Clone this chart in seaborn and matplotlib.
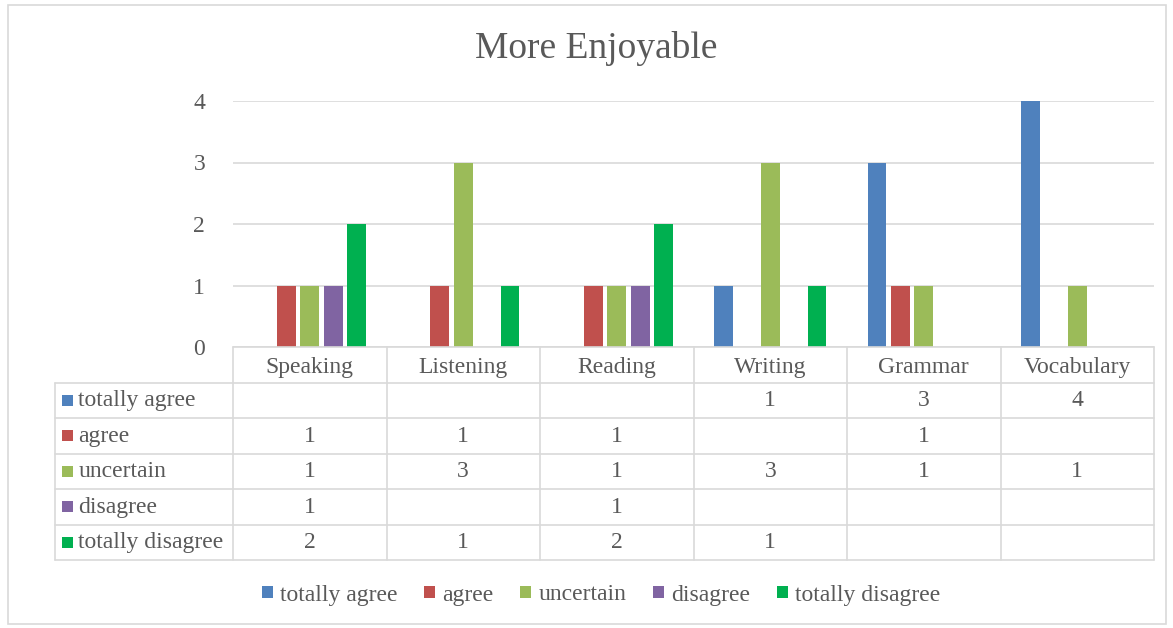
import numpy as np
import pandas as pd
import matplotlib
matplotlib.use("Agg")
import matplotlib.pyplot as plt
from matplotlib.patches import Patch, Rectangle
import seaborn as sns

# ---- data -------------------------------------------------------------
categories = ["Speaking", "Listening", "Reading", "Writing", "Grammar", "Vocabulary"]
series = ["totally agree", "agree", "uncertain", "disagree", "totally disagree"]
totally_agree = [None, None, None, 1, 3, 4]
agree = [1, 1, 1, None, 1, None]
uncertain = [1, 3, 1, 3, 1, 1]
disagree = [1, None, 1, None, None, None]
totally_disagree = [2, 1, 2, 1, None, None]
y_ticks = [0, 1, 2, 3, 4]
title = "More Enjoyable"

colors = ["#4F81BD", "#C0504D", "#9BBB59", "#8064A2", "#00B050"]
values = [totally_agree, agree, uncertain, disagree, totally_disagree]

rows = []
for name, vals in zip(series, values):
    for cat, v in zip(categories, vals):
        if v is not None:
            rows.append({"skill": cat, "response": name, "count": v})
df = pd.DataFrame(rows)

# ---- style ------------------------------------------------------------
sns.set_style("white")
plt.rcParams["font.family"] = ["Liberation Serif", "DejaVu Serif"]
TXT = "#595959"
GRID = "#D9D9D9"
FS = 17

W, H = 1173, 628
fig = plt.figure(figsize=(W / 100, H / 100), dpi=100)

def fx(px):
    return px / W

def fy(py):
    return 1 - py / H

# outer chart border
fig.patches.append(Rectangle((fx(8), fy(624)), fx(1166) - fx(8), fy(5) - fy(624),
                             transform=fig.transFigure, fill=False,
                             edgecolor=GRID, linewidth=1.2))

# ---- bar area ---------------------------------------------------------
x0, x1 = 233, 1154
y_top, y_base = 101, 347
ax = fig.add_axes([fx(x0), fy(y_base), fx(x1) - fx(x0), fy(y_top) - fy(y_base)])
sns.barplot(data=df, x="skill", y="count", hue="response",
            order=categories, hue_order=series, palette=colors,
            width=0.765, gap=0.21, saturation=1, errorbar=None,
            linewidth=0, legend=False, ax=ax)
ax.set_xlim(-0.5, len(categories) - 0.5)
ax.set_ylim(0, 4)
ax.set_yticks(y_ticks)
ax.set_yticklabels([str(t) for t in y_ticks], fontsize=FS, color=TXT)
ax.tick_params(axis="y", length=0, pad=20)
ax.set_xticks([])
ax.set_xlabel("")
ax.set_ylabel("")
ax.grid(axis="y", color=GRID, linewidth=1.2)
ax.set_axisbelow(True)
for s in ax.spines.values():
    s.set_visible(False)

# ---- data table -------------------------------------------------------
t_left, t_bottom = 55, 560
tax = fig.add_axes([fx(t_left), fy(t_bottom), fx(x1) - fx(t_left), fy(y_base) - fy(t_bottom)])
col_w = (x1 - x0) / len(categories)
label_w = (x0 - t_left) / col_w
nrows = len(series) + 1
tax.set_xlim(-0.5 - label_w, len(categories) - 0.5)
tax.set_ylim(nrows, 0)
tax.axis("off")

lw = 1.2
# horizontal lines
tax.plot([-0.5, len(categories) - 0.5], [0, 0], color=GRID, lw=lw, clip_on=False)
for r in range(1, nrows + 1):
    tax.plot([-0.5 - label_w, len(categories) - 0.5], [r, r], color=GRID, lw=lw, clip_on=False)
# vertical lines
tax.plot([-0.5 - label_w, -0.5 - label_w], [1, nrows], color=GRID, lw=lw, clip_on=False)
for c in range(len(categories) + 1):
    tax.plot([c - 0.5, c - 0.5], [0, nrows], color=GRID, lw=lw, clip_on=False)

for c, cat in enumerate(categories):
    tax.text(c, 0.58, cat, ha="center", va="center", fontsize=FS, color=TXT)

key_w = 10.5 / col_w
for r, (name, vals, col) in enumerate(zip(series, values, colors), start=1):
    kx = -0.5 - label_w + 7 / col_w
    tax.add_patch(Rectangle((kx, r + 0.5 - 0.16), key_w, 0.32, color=col, lw=0))
    tax.text(kx + key_w + 6 / col_w, r + 0.52, name, ha="left", va="center",
             fontsize=FS, color=TXT)
    for c, v in enumerate(vals):
        if v is not None:
            tax.text(c, r + 0.52, str(v), ha="center", va="center", fontsize=FS, color=TXT)

# ---- title and legend -------------------------------------------------
fig.text(fx(596), fy(49), title, ha="center", va="center", fontsize=27, color=TXT)

handles = [Patch(facecolor=c, edgecolor="none", label=s) for s, c in zip(series, colors)]
leg = fig.legend(handles=handles, loc="center", bbox_to_anchor=(fx(601), fy(595)),
                 ncol=5, frameon=False, fontsize=FS, handlelength=0.45, handleheight=0.45,
                 handletextpad=0.3, columnspacing=1.15)
for t in leg.get_texts():
    t.set_color(TXT)

fig.savefig("out.png", dpi=100)
